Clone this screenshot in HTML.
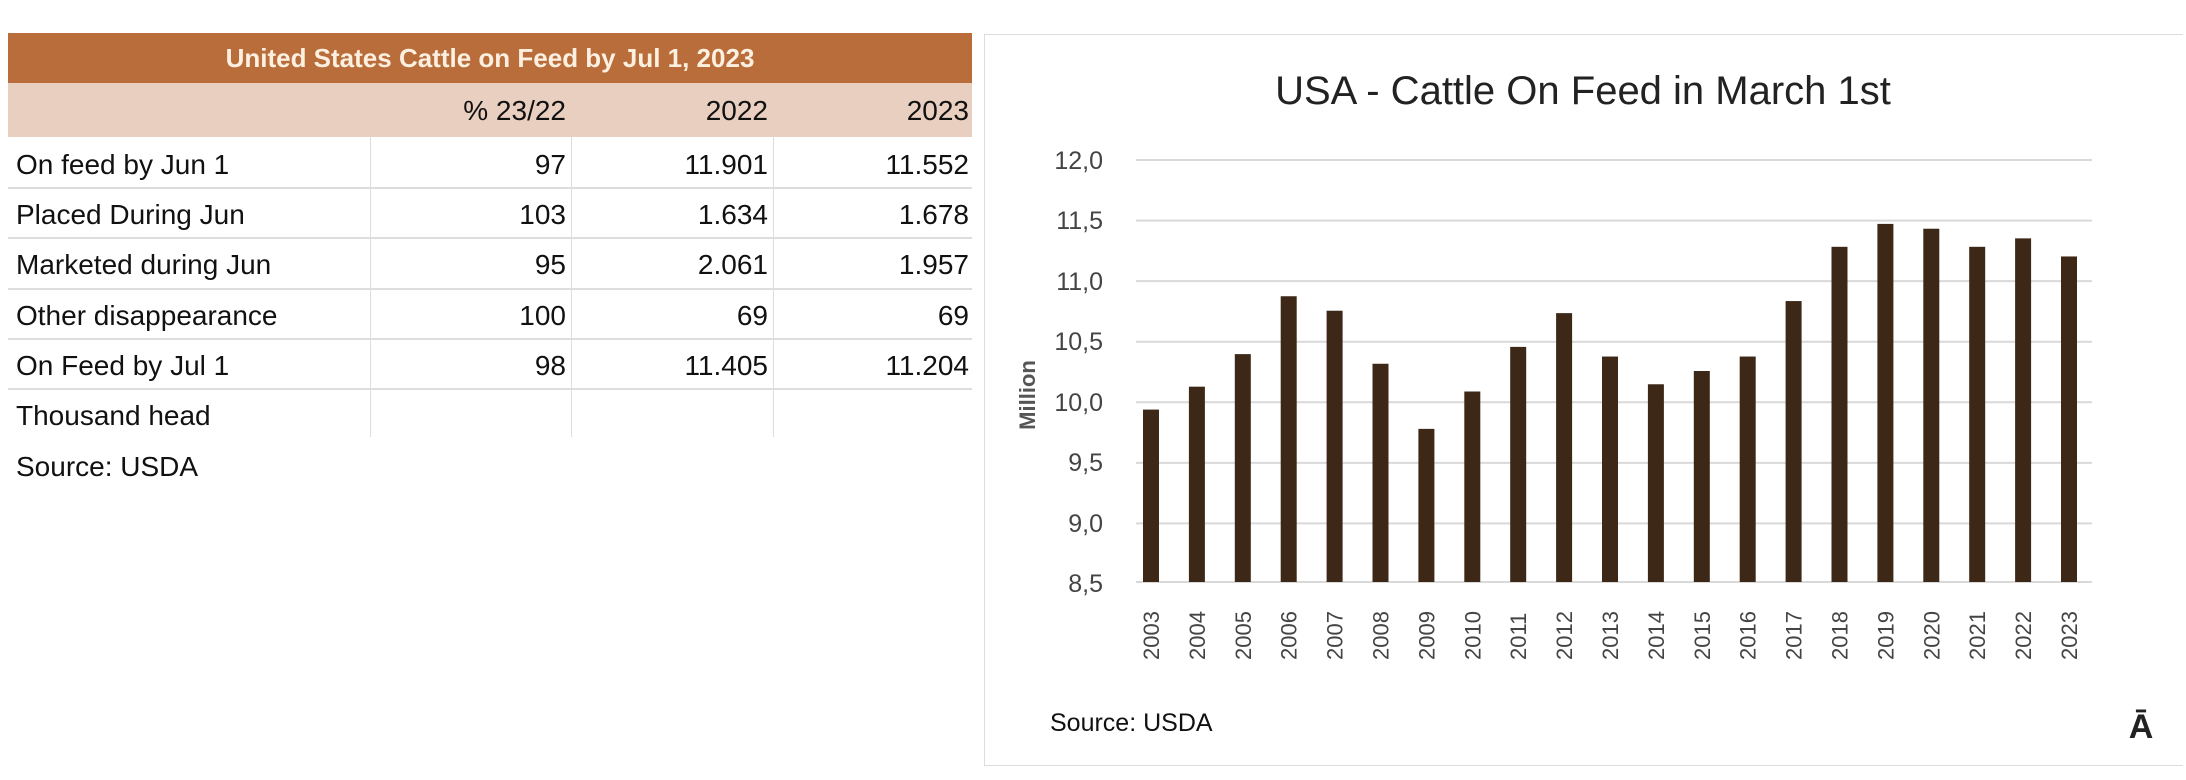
<!DOCTYPE html>
<html><head><meta charset="utf-8"><style>
body{margin:0;width:2186px;height:780px;background:#fff;position:relative;overflow:hidden;font-family:"Liberation Sans",sans-serif;}
.a{position:absolute;}
.cell{position:absolute;font-size:28px;color:#111;line-height:50px;}
</style></head><body>
<div class="a" style="left:8px;top:33px;width:964px;height:50px;background:#b86d3a;"></div>
<div class="a" style="left:8px;top:33px;width:964px;height:50px;line-height:50px;text-align:center;color:#fdf0e0;font-weight:bold;font-size:26px;">United States Cattle on Feed by Jul 1, 2023</div>
<div class="a" style="left:8px;top:83px;width:964px;height:54px;background:#e9cfc0;"></div>
<div class="cell" style="left:370px;width:196px;top:86px;text-align:right;">% 23/22</div>
<div class="cell" style="left:571px;width:197px;top:86px;text-align:right;">2022</div>
<div class="cell" style="left:773px;width:196px;top:86px;text-align:right;">2023</div>
<div class="a" style="left:370px;top:137px;width:1px;height:300px;background:#ddd;"></div>
<div class="a" style="left:571px;top:137px;width:1px;height:300px;background:#ddd;"></div>
<div class="a" style="left:773px;top:137px;width:1px;height:300px;background:#ddd;"></div>
<div class="a" style="left:8px;top:187px;width:964px;height:2px;background:#ddd;"></div>
<div class="a" style="left:8px;top:237px;width:964px;height:2px;background:#ddd;"></div>
<div class="a" style="left:8px;top:288px;width:964px;height:2px;background:#ddd;"></div>
<div class="a" style="left:8px;top:338px;width:964px;height:2px;background:#ddd;"></div>
<div class="a" style="left:8px;top:388px;width:964px;height:2px;background:#ddd;"></div>
<div class="cell" style="left:16px;top:140px;">On feed by Jun 1</div>
<div class="cell" style="left:370px;width:196px;top:140px;text-align:right;">97</div>
<div class="cell" style="left:571px;width:197px;top:140px;text-align:right;">11.901</div>
<div class="cell" style="left:773px;width:196px;top:140px;text-align:right;">11.552</div>
<div class="cell" style="left:16px;top:190px;">Placed During Jun</div>
<div class="cell" style="left:370px;width:196px;top:190px;text-align:right;">103</div>
<div class="cell" style="left:571px;width:197px;top:190px;text-align:right;">1.634</div>
<div class="cell" style="left:773px;width:196px;top:190px;text-align:right;">1.678</div>
<div class="cell" style="left:16px;top:240px;">Marketed during Jun</div>
<div class="cell" style="left:370px;width:196px;top:240px;text-align:right;">95</div>
<div class="cell" style="left:571px;width:197px;top:240px;text-align:right;">2.061</div>
<div class="cell" style="left:773px;width:196px;top:240px;text-align:right;">1.957</div>
<div class="cell" style="left:16px;top:291px;">Other disappearance</div>
<div class="cell" style="left:370px;width:196px;top:291px;text-align:right;">100</div>
<div class="cell" style="left:571px;width:197px;top:291px;text-align:right;">69</div>
<div class="cell" style="left:773px;width:196px;top:291px;text-align:right;">69</div>
<div class="cell" style="left:16px;top:341px;">On Feed by Jul 1</div>
<div class="cell" style="left:370px;width:196px;top:341px;text-align:right;">98</div>
<div class="cell" style="left:571px;width:197px;top:341px;text-align:right;">11.405</div>
<div class="cell" style="left:773px;width:196px;top:341px;text-align:right;">11.204</div>
<div class="cell" style="left:16px;top:391px;">Thousand head</div>
<div class="cell" style="left:16px;top:442px;">Source: USDA</div>

<div class="a" style="left:984px;top:34px;width:1198px;height:730px;border:1px solid #ddd;border-right:none;"></div>
<svg class="a" style="left:0;top:0" width="2186" height="780" font-family="Liberation Sans, sans-serif">
<text x="1583" y="104" font-size="40" text-anchor="middle" fill="#222">USA - Cattle On Feed in March 1st</text>
<g stroke="#d9d9d9" stroke-width="2">
<line x1="1136" x2="2092" y1="160" y2="160"/><line x1="1136" x2="2092" y1="220.6" y2="220.6"/>
<line x1="1136" x2="2092" y1="281.1" y2="281.1"/><line x1="1136" x2="2092" y1="341.7" y2="341.7"/>
<line x1="1136" x2="2092" y1="402.3" y2="402.3"/><line x1="1136" x2="2092" y1="462.9" y2="462.9"/>
<line x1="1136" x2="2092" y1="523.4" y2="523.4"/><line x1="1136" x2="2092" y1="582" y2="582"/>
</g>
<g font-size="25" fill="#444" text-anchor="end">
<text x="1103" y="169">12,0</text><text x="1103" y="229">11,5</text><text x="1103" y="290">11,0</text>
<text x="1103" y="350">10,5</text><text x="1103" y="411">10,0</text><text x="1103" y="471">9,5</text>
<text x="1103" y="532">9,0</text><text x="1103" y="592">8,5</text>
</g>
<text transform="translate(1035,395) rotate(-90)" font-size="22" font-weight="bold" fill="#555" text-anchor="middle">Million</text>
<g id="bars" fill="#3d2817"></g>
<g id="lbl" font-size="22" fill="#444"></g>
<text x="1050" y="731" font-size="25" fill="#111">Source: USDA</text>
<text x="2141" y="738" font-size="34" font-weight="bold" fill="#222" text-anchor="middle">Ā</text>
</svg>
<script>
var v=[9.93,10.12,10.39,10.87,10.75,10.31,9.77,10.08,10.45,10.73,10.37,10.14,10.25,10.37,10.83,11.28,11.47,11.43,11.28,11.35,11.20];
var b=document.getElementById('bars'),l=document.getElementById('lbl'),ns='http://www.w3.org/2000/svg';
v.forEach(function(x,i){var cx=1151+i*45.9,y=582-(x-8.5)/3.5*422;
var r=document.createElementNS(ns,'rect');r.setAttribute('x',cx-8);r.setAttribute('y',y);r.setAttribute('width',16);r.setAttribute('height',582-y);b.appendChild(r);
var t=document.createElementNS(ns,'text');t.setAttribute('transform','translate('+(cx+8)+',660) rotate(-90)');t.textContent=2003+i;l.appendChild(t);});
</script>
</body></html>
